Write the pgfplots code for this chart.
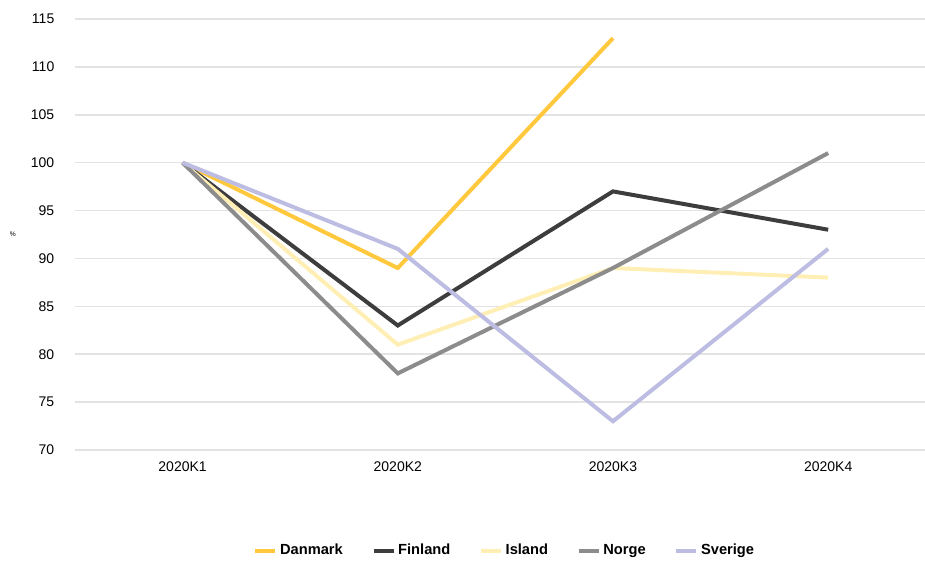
\documentclass[border=0pt]{standalone}
\usepackage{pgfplots}
\pgfplotsset{compat=1.18}
\usepackage{fontspec}
\setmainfont{Liberation Sans}
\definecolor{cDan}{HTML}{FFC83D}
\definecolor{cFin}{HTML}{3D3D3D}
\definecolor{cIsl}{HTML}{FFEFB5}
\definecolor{cNor}{HTML}{8C8C8C}
\definecolor{cSve}{HTML}{BDBDE3}
\definecolor{cGrid}{HTML}{E3E3E3}
\begin{document}
\begin{tikzpicture}
\useasboundingbox (0pt,0pt) rectangle (693.75pt,420.75pt);
\begin{axis}[
  at={(56.25pt,83.25pt)}, anchor=south west,
  scale only axis, width=637.5pt, height=323.25pt,
  xmin=-0.5, xmax=3.45, ymin=70, ymax=115,
  xtick={0,1,2,3}, xticklabels={2020K1,2020K2,2020K3,2020K4},
  ytick={70,75,...,115},
  axis line style={draw=none},
  major tick length=0pt,
  ymajorgrids, grid style={cGrid, line width=1.1pt},
  tick label style={font=\fontsize{10.5}{12}\selectfont},
  /pgf/number format/assume math mode=true,
  yticklabel style={xshift=-12pt},
  xticklabel style={yshift=-5pt},
  ylabel={\%}, ylabel style={font=\fontsize{5}{6}\selectfont, at={(axis description cs:-0.073,0.5)}, anchor=center, rotate=-90},
  legend columns=5,
  legend style={draw=none, at={(0.506,-0.234)}, anchor=center, font=\bfseries\fontsize{11}{13}\selectfont,
    nodes={text height=1.6ex, text depth=0.45ex},
    /tikz/every even column/.append style={column sep=19.5pt}},
  legend image code/.code={\draw[#1, line width=3pt] (0pt,0pt) -- (15pt,0pt);},
  every axis plot/.append style={line width=3pt, line join=miter},
]
\addplot[cDan] coordinates {(0,100) (1,89) (2,113)};
\addlegendentry{Danmark}
\addplot[cFin] coordinates {(0,100) (1,83) (2,97) (3,93)};
\addlegendentry{Finland}
\addplot[cIsl] coordinates {(0,100) (1,81) (2,89) (3,88)};
\addlegendentry{Island}
\addplot[cNor] coordinates {(0,100) (1,78) (2,89) (3,101)};
\addlegendentry{Norge}
\addplot[cSve] coordinates {(0,100) (1,91) (2,73) (3,91)};
\addlegendentry{Sverige}
\end{axis}
\end{tikzpicture}
\end{document}
